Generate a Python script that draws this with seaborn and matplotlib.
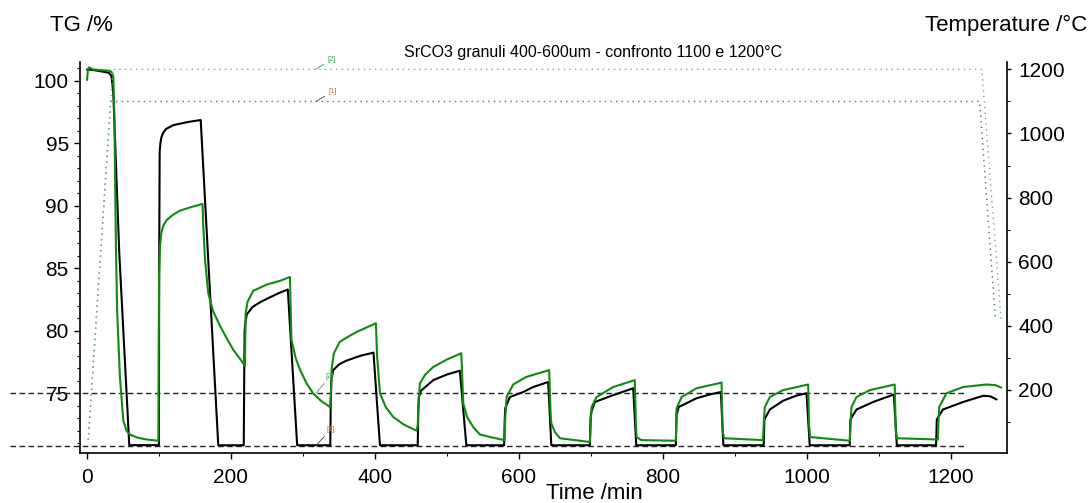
import matplotlib
matplotlib.use('Agg')
import matplotlib.pyplot as plt
import seaborn as sns
from matplotlib.ticker import MultipleLocator

# TG curve [1] - 1100 °C (black)
time_1100 = [0, 3, 10, 30, 34, 36.6, 44.9, 58.8, 100, 100.3, 101, 102, 103.5, 106, 110, 120, 140, 158,
             182.4, 217.8, 218.4, 219, 220, 222, 230, 241, 255, 268, 279, 292, 338, 338.6, 339.5, 342,
             350, 360, 380, 398, 407, 459.5, 460.2, 461, 464, 481, 500, 518, 527, 579.5, 580.3, 581,
             587.5, 606, 620, 640.7, 645, 698.6, 699.5, 700.5, 705.5, 731, 758.8, 763, 818, 819, 822,
             846.8, 865, 880.5, 884, 940, 941, 948.6, 967, 985, 999.5, 1004, 1059.5, 1060.5, 1069,
             1092, 1120.8, 1125, 1179.5, 1180.5, 1189, 1217, 1245, 1255, 1263.5]
tg_1100 = [100.9, 100.9, 100.85, 100.65, 100.4, 99.0, 86.2, 70.85, 70.85, 85.0, 94.3, 95.0, 95.5, 95.85,
           96.15, 96.45, 96.7, 96.86,
           70.84, 70.84, 76.0, 80.0, 80.6, 81.3, 81.9, 82.3, 82.7, 83.05, 83.3, 70.84, 70.84, 74.0, 76.0,
           76.85, 77.3, 77.6, 78.0, 78.25, 70.84, 70.84, 73.5, 74.7, 75.2, 76.05, 76.5, 76.8, 70.84,
           70.84, 72.8, 73.8, 74.7, 75.1, 75.5, 75.9, 70.84, 70.84, 73.0, 73.5, 74.3, 74.85, 75.4,
           70.84, 70.84, 73.3, 73.9, 74.6, 74.9, 75.1, 70.84, 70.84, 72.9, 73.7, 74.4, 74.8, 75.0,
           70.84, 70.84, 72.9, 73.7, 74.3, 74.9, 70.84, 70.84, 72.9, 73.7, 74.3, 74.8, 74.75, 74.5]

# TG curve [2] - 1200 °C (green)
time_1200 = [0, 1.5, 3, 8.8, 32, 35, 36.6, 38, 40.3, 42, 45.8, 50.5, 55, 59.7, 70, 82.9, 99.3,
             99.6, 100.3, 101.5, 103.2, 106, 110.6, 120, 129, 145, 160.6,
             161.5, 164, 168.5, 175, 184.7, 195, 203, 212, 219.4,
             220.4, 223, 231, 250, 268.5, 282,
             284, 290, 295.8, 305, 314, 325, 337.5,
             338.5, 340, 343, 351, 362, 374.5, 401.4,
             403, 407, 415, 425.5, 440, 458,
             459.5, 461, 462.5, 470, 481, 500, 520,
             521.5, 522.7, 528, 536.5, 545.8, 560, 580,
             581, 583, 592, 610, 642,
             644, 645, 650, 657, 698.6,
             700, 701, 707.9, 731, 761,
             762.5, 763.5, 770, 818,
             819, 826, 846.8, 881.5,
             883, 885, 939,
             940.5, 941.7, 948.6, 967, 1001.8,
             1003, 1004.5, 1059.7,
             1061, 1062, 1069, 1087.5, 1122,
             1123.5, 1125, 1182,
             1183, 1183.8, 1194, 1217, 1249.5, 1262, 1270]
tg_1200 = [100.06, 100.9, 101.07, 100.9, 100.8, 100.65, 100.3, 97.5, 86.5, 81.5, 76.3, 72.8, 72.0, 71.7,
           71.45, 71.3, 71.2,
           78.0, 84.5, 86.8, 87.8, 88.4, 88.85, 89.3, 89.6, 89.9, 90.15,
           88.5, 85.7, 83.0, 81.6, 80.4, 79.3, 78.5, 77.8, 77.2,
           81.4, 82.3, 83.2, 83.7, 84.0, 84.3,
           79.3, 77.8, 76.9, 75.8, 75.0, 74.4, 73.9,
           74.5, 77.0, 78.2, 79.1, 79.5, 79.9, 80.6,
           78.0, 75.0, 73.9, 73.1, 72.5, 72.0,
           72.5, 74.5, 75.8, 76.5, 77.1, 77.7, 78.2,
           76.0, 74.2, 73.1, 72.3, 71.7, 71.5, 71.25,
           73.0, 74.7, 75.7, 76.3, 76.85,
           73.5, 72.6, 71.9, 71.4, 71.1,
           72.8, 73.9, 74.7, 75.5, 76.05,
           72.5, 71.5, 71.25, 71.2,
           73.8, 74.7, 75.4, 75.85,
           72.0, 71.4, 71.25,
           73.0, 73.9, 74.7, 75.25, 75.7,
           72.5, 71.5, 71.2,
           73.0, 73.9, 74.7, 75.25, 75.7,
           72.0, 71.4, 71.3,
           73.0, 73.9, 75.0, 75.5, 75.7, 75.65, 75.45]

# temperature programmes
temp_time_1100 = [1.8, 33, 1240, 1262]
temp_1100 = [44, 1100, 1100, 418]
temp_time_1200 = [1.8, 36, 1243, 1270]
temp_1200 = [44, 1200, 1200, 413]

ref_levels = [75.0, 70.8]
tag_time = 318

sns.set_style('ticks')
plt.rcParams['font.family'] = ['Liberation Sans', 'DejaVu Sans']
plt.rcParams['text.color'] = 'black'
plt.rcParams['xtick.color'] = 'black'
plt.rcParams['ytick.color'] = 'black'
plt.rcParams['axes.labelcolor'] = 'black'

fig = plt.figure(figsize=(10.91, 5.03), dpi=100)
ax = fig.add_axes([0.0733, 0.0994, 0.8497, 0.7773])
ax2 = ax.twinx()

green = '#108a10'
sns.lineplot(x=time_1100, y=tg_1100, ax=ax, color='black', lw=1.5, estimator=None, sort=False, zorder=3)
sns.lineplot(x=time_1200, y=tg_1200, ax=ax, color=green, lw=1.5, estimator=None, sort=False, zorder=4)

sns.lineplot(x=temp_time_1100, y=temp_1100, ax=ax2, color='#666666', lw=1.0,
             linestyle=(0, (1, 3)), estimator=None, sort=False)
sns.lineplot(x=temp_time_1200, y=temp_1200, ax=ax2, color='#66bb66', lw=1.0,
             linestyle=(0, (1, 3)), estimator=None, sort=False)

# dashed reference levels (run past the left axis, as in the original)
for lvl in ref_levels:
    ax.plot([-0.0755, 0.9536], [lvl, lvl], transform=ax.get_yaxis_transform(),
            color='#222222', lw=1.0, ls=(0, (4, 2.5)), clip_on=False, zorder=2)

ax.set_xlim(-9.7, 1278)
ax.set_ylim(70.22, 101.5)
ax2.set_ylim(3, 1223)

ax.xaxis.set_major_locator(MultipleLocator(200))
ax.xaxis.set_minor_locator(MultipleLocator(100))
ax.yaxis.set_major_locator(MultipleLocator(5))
ax.yaxis.set_minor_locator(MultipleLocator(1))
ax2.yaxis.set_major_locator(MultipleLocator(200))
ax2.yaxis.set_minor_locator(MultipleLocator(100))

ax.tick_params(axis='both', which='major', labelsize=15, length=4, width=1, color='black',
               labelcolor='black', pad=4)
ax.tick_params(axis='both', which='minor', length=2.5, width=0.8, color='black')
ax.tick_params(axis='x', which='major', pad=7)
ax2.tick_params(axis='y', which='major', labelsize=15, length=3, width=1, pad=5,
                color='black', labelcolor='black')
ax2.tick_params(axis='y', which='minor', length=2, width=0.8, color='black')

for a in (ax, ax2):
    a.spines['top'].set_visible(False)
    for s in ('left', 'right', 'bottom'):
        a.spines[s].set_color('black')
        a.spines[s].set_linewidth(1.2)
    a.set_xlabel('')
    a.set_ylabel('')
ax.spines['right'].set_visible(False)
ax2.spines['left'].set_visible(False)
ax2.spines['bottom'].set_visible(False)

# curve tags
tag_col = {'[1]': '#b87333', '[2]': '#3aa655'}
ax2.annotate('[2]', xy=(tag_time, temp_1200[1]), xytext=(11.3, 7.4), textcoords='offset points',
             fontsize=5.5, color=tag_col['[2]'], ha='center', va='center', annotation_clip=False,
             arrowprops=dict(arrowstyle='-', color=tag_col['[2]'], lw=0.6, shrinkA=0, shrinkB=0))
ax2.annotate('[1]', xy=(tag_time, temp_1100[1]), xytext=(11.8, 7.0), textcoords='offset points',
             fontsize=5.5, color=tag_col['[1]'], ha='center', va='center', annotation_clip=False,
             arrowprops=dict(arrowstyle='-', color='#444444', lw=0.6, shrinkA=0, shrinkB=0))
ax.annotate('[2]', xy=(tag_time, ref_levels[0]), xytext=(10.0, 12.0), textcoords='offset points',
            fontsize=5.5, color=tag_col['[2]'], ha='center', va='center', zorder=6,
            arrowprops=dict(arrowstyle='-', color=tag_col['[2]'], lw=0.6, shrinkA=0, shrinkB=0))
ax.annotate('[1]', xy=(tag_time, ref_levels[1]), xytext=(10.6, 11.8), textcoords='offset points',
            fontsize=5.5, color=tag_col['[1]'], ha='center', va='center', zorder=6,
            arrowprops=dict(arrowstyle='-', color='#444444', lw=0.6, shrinkA=0, shrinkB=0))

fig.text(0.0458, 0.950, 'TG /%', fontsize=16, ha='left', va='center', color='black')
fig.text(0.997, 0.950, 'Temperature /°C', fontsize=16, ha='right', va='center', color='black')
fig.text(0.5445, 0.018, 'Time /min', fontsize=16, ha='center', va='center', color='black')
fig.text(0.5435, 1 - 52 / 503, 'SrCO3 granuli 400-600um - confronto 1100 e 1200°C',
         fontsize=11.5, ha='center', va='center', color='black')

fig.savefig('out.png', dpi=100)
